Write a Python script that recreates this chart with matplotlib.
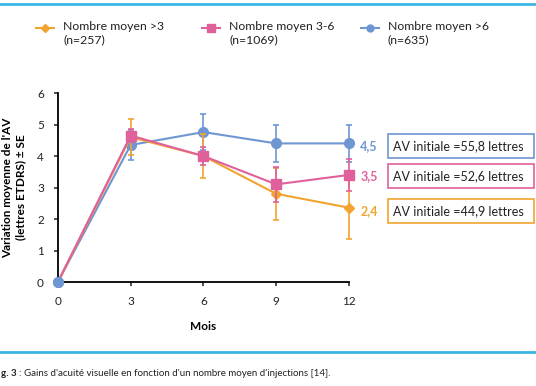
import matplotlib
matplotlib.use("Agg")
import matplotlib.pyplot as plt
from matplotlib.lines import Line2D
from matplotlib.patches import Rectangle

plt.rcParams['font.family'] = ['Lato', 'DejaVu Sans']

months = [0, 3, 6, 9, 12]
series_labels = ["Nombre moyen >3\n(n=257)", "Nombre moyen 3-6\n(n=1069)", "Nombre moyen >6\n(n=635)"]
orange_vals = [0, 4.6, 4.0, 2.8, 2.36]
orange_err = [0, 0.57, 0.69, 0.83, 1.0]
pink_vals = [0, 4.65, 4.0, 3.1, 3.4]
pink_err = [0, 0.2, 0.3, 0.55, 0.5]
blue_vals = [0, 4.35, 4.76, 4.4, 4.4]
blue_err = [0, 0.48, 0.57, 0.6, 0.6]
end_labels = ["2,4", "3,5", "4,5"]
box_texts = ["AV initiale =44,9 lettres", "AV initiale =52,6 lettres", "AV initiale =55,8 lettres"]
xticks = [0, 3, 6, 9, 12]
yticks = [0, 1, 2, 3, 4, 5, 6]

c_orange = "#F2A431"
c_pink = "#E0609C"
c_blue = "#6E96D2"

fig = plt.figure(figsize=(5.36, 3.86), dpi=100)
ax = fig.add_axes([0.108, 0.2694, 0.543, 0.4896])

for vals, err, col, mk, ms, z, mev in [(orange_vals, orange_err, c_orange, 'D', 5, 3, slice(1, None)),
                                       (pink_vals, pink_err, c_pink, 's', 7, 4, slice(1, None)),
                                       (blue_vals, blue_err, c_blue, 'o', 7, 2, None)]:
    ax.errorbar(months, vals, yerr=err, color=col, marker=mk, markersize=ms, markevery=mev,
                linewidth=1.5, elinewidth=1.2, capsize=2.5, capthick=1.2, clip_on=False, zorder=z)
# blue origin dot drawn on top as in the reference
ax.plot(months[:1], blue_vals[:1], 'o', color=c_blue, markersize=7, clip_on=False, zorder=6)

ax.set_xlim(0, 12)
ax.set_ylim(0, 6)
ax.set_xticks(xticks)
ax.set_yticks(yticks)
ax.spines['top'].set_visible(False)
ax.spines['right'].set_visible(False)
ax.spines['left'].set_linewidth(1.3)
ax.spines['bottom'].set_linewidth(1.3)
ax.tick_params(axis='both', labelsize=8.5, length=3, width=1.1, colors='#222222', pad=7)
ax.set_xlabel("Mois", fontsize=8.5, fontweight='bold', labelpad=10)
ax.set_ylabel("Variation moyenne de l'AV\n(lettres ETDRS) ± SE", fontsize=8.5, fontweight='bold', labelpad=8)

# end labels and boxes
for lab, txt, col, ypx in zip(end_labels, box_texts, [c_orange, c_pink, c_blue], [211, 176, 146]):
    yf = 1 - ypx / 386
    fig.text(369 / 536, yf, lab, color=col, fontsize=9, fontweight='bold', va='center', ha='center')
    rect = Rectangle((388 / 536, yf - 12 / 386), 146 / 536, 24 / 386, transform=fig.transFigure,
                     fill=False, edgecolor=col, linewidth=1.2)
    fig.add_artist(rect)
    fig.text(393 / 536, yf, txt, color='#222222', fontsize=9, va='center', ha='left')

# legend
for col, mk, ms, lab, xpx in zip([c_orange, c_pink, c_blue], ['D', 's', 'o'], [4.5, 6, 5],
                                 series_labels, [45, 211, 370]):
    yl = 1 - 28 / 386
    fig.add_artist(Line2D([(xpx - 9) / 536, (xpx + 9) / 536], [yl, yl],
                          color=col, linewidth=1.5, transform=fig.transFigure))
    fig.add_artist(Line2D([xpx / 536], [yl], color=col, marker=mk, markersize=ms,
                          linestyle='none', transform=fig.transFigure))
    fig.text((xpx + 18) / 536, 1 - 21 / 386, lab, fontsize=8.8, color='#222222', va='top', ha='left',
             linespacing=1.25)

# decorative cyan rules
fig.add_artist(Line2D([0, 1], [1 - 4 / 386] * 2, color='#3BB7E4', linewidth=2, transform=fig.transFigure))
fig.add_artist(Line2D([0, 1], [1 - 352 / 386] * 2, color='#3BB7E4', linewidth=2, transform=fig.transFigure))
fig.text(1 / 536, 1 - 373 / 386, "g. 3", fontsize=7, fontweight='bold', color='#222222', va='center', ha='left')
fig.text(19 / 536, 1 - 373 / 386, ": Gains d'acuité visuelle en fonction d'un nombre moyen d'injections [14].",
         fontsize=7, color='#222222', va='center', ha='left')

fig.savefig("out.png", dpi=100)
